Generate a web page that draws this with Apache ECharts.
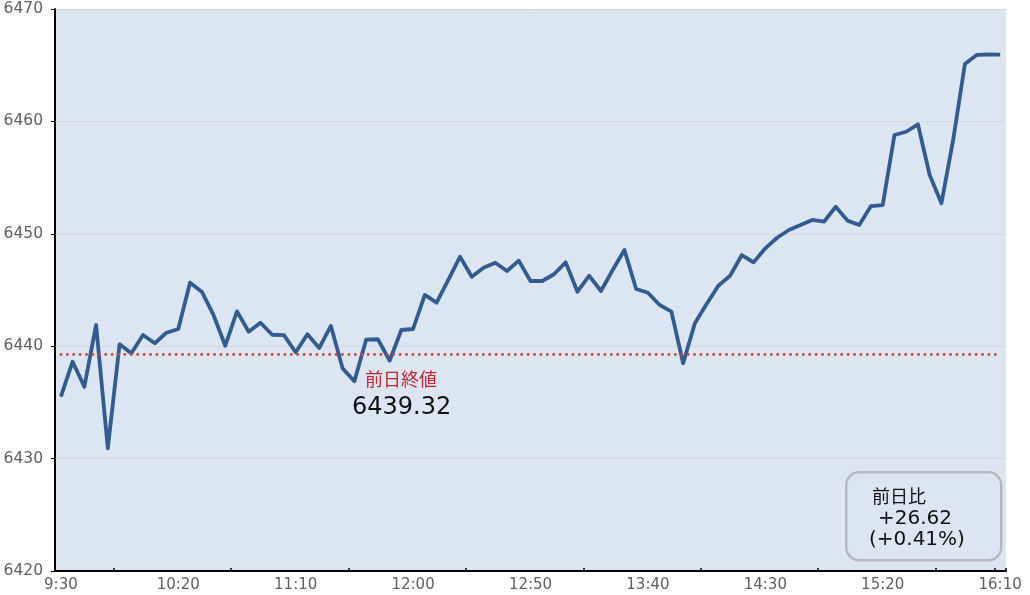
<!DOCTYPE html>
<html>
<head>
<meta charset="utf-8">
<script src="https://cdn.jsdelivr.net/npm/echarts@6/dist/echarts.min.js"></script>
<style>
html,body{margin:0;padding:0;background:#fff;}
#chart{width:1030px;height:595px;}
</style>
</head>
<body>
<div id="chart"></div>
<script>
var times = [
  '9:30','9:35','9:40','9:45','9:50','9:55',
  '10:00','10:05','10:10','10:15','10:20','10:25','10:30','10:35','10:40','10:45','10:50','10:55',
  '11:00','11:05','11:10','11:15','11:20','11:25','11:30','11:35','11:40','11:45','11:50','11:55',
  '12:00','12:05','12:10','12:15','12:20','12:25','12:30','12:35','12:40','12:45','12:50','12:55',
  '13:00','13:05','13:10','13:15','13:20','13:25','13:30','13:35','13:40','13:45','13:50','13:55',
  '14:00','14:05','14:10','14:15','14:20','14:25','14:30','14:35','14:40','14:45','14:50','14:55',
  '15:00','15:05','15:10','15:15','15:20','15:25','15:30','15:35','15:40','15:45','15:50','15:55',
  '16:00','16:05','16:10'
];
var prices = [
  6435.51, 6438.62, 6436.40, 6441.89, 6430.92, 6440.17, 6439.37, 6441.00, 6440.26, 6441.20,
  6441.53, 6445.65, 6444.85, 6442.78, 6440.04, 6443.10, 6441.29, 6442.09, 6441.02, 6440.98,
  6439.46, 6441.06, 6439.84, 6441.80, 6438.02, 6436.88, 6440.58, 6440.62, 6438.71, 6441.44,
  6441.53, 6444.56, 6443.87, 6445.89, 6447.96, 6446.18, 6446.98, 6447.43, 6446.69, 6447.61,
  6445.80, 6445.80, 6446.40, 6447.46, 6444.85, 6446.27, 6444.91, 6446.78, 6448.56, 6445.09,
  6444.76, 6443.67, 6443.07, 6438.48, 6442.04, 6443.75, 6445.38, 6446.27, 6448.11, 6447.46,
  6448.71, 6449.65, 6450.34, 6450.78, 6451.23, 6451.08, 6452.41, 6451.17, 6450.78, 6452.47,
  6452.56, 6458.79, 6459.08, 6459.74, 6455.23, 6452.71, 6458.35, 6465.11, 6465.91, 6465.95,
  6465.94
];
var prevClose = 6439.32;
var prevCloseLabel = '前日終値';
var changeTitle = '前日比';
var changeValue = '+26.62';
var changePct = '(+0.41%)';
var yTicks = { min: 6420, max: 6470, interval: 10 };

var chart = echarts.init(document.getElementById('chart'), null, {renderer: 'canvas'});
var FONT = 'DejaVu Sans';
var CJK = '"Noto Sans CJK JP", "DejaVu Sans"';

chart.setOption({
  animation: false,
  backgroundColor: '#ffffff',
  grid: {
    left: 55, right: 24, top: 9, bottom: 24,
    outerBoundsMode: 'none',
    containLabel: false,
    show: true, backgroundColor: '#dce6f2', borderWidth: 0
  },
  xAxis: {
    type: 'category',
    data: times,
    boundaryGap: true,
    axisLine: { show: true, lineStyle: { color: '#000', width: 2 } },
    axisTick: {
      show: true, inside: true, length: 3,
      lineStyle: { color: '#000', width: 1.5 },
      interval: function (idx) { return idx % 10 === 5 || idx === 80; }
    },
    axisLabel: {
      interval: 9, margin: 7,
      color: '#5f5f5f', fontFamily: FONT, fontSize: 15
    },
    splitLine: { show: false }
  },
  yAxis: {
    type: 'value',
    min: yTicks.min, max: yTicks.max, interval: yTicks.interval,
    axisLine: { show: true, lineStyle: { color: '#000', width: 2 } },
    axisTick: { show: true, inside: false, length: 4, lineStyle: { color: '#000', width: 1 } },
    axisLabel: {
      margin: 12, color: '#5f5f5f', fontFamily: FONT, fontSize: 15.5,
      formatter: function (v) { return String(v); }
    },
    splitLine: { show: true, lineStyle: { color: '#d4d8dc', width: 1 } }
  },
  series: [{
    type: 'line',
    data: prices,
    showSymbol: false,
    symbol: 'none',
    lineStyle: { color: '#325c91', width: 3.8, join: 'round' },
    markLine: {
      silent: true,
      symbol: ['none', 'none'],
      label: { show: false },
      lineStyle: { color: '#d0443f', width: 2.8, type: [0.1, 6.3], cap: 'round' },
      data: [[ { coord: [times[0], prevClose] }, { coord: [times[times.length - 1], prevClose] } ]]
    },
    z: 3
  }],
  graphic: [
    { type: 'text', left: 365, top: 370, z: 10,
      style: { text: prevCloseLabel, fill: '#c4262e', font: '18px ' + CJK } },
    { type: 'text', left: 352, top: 396, z: 10,
      style: { text: String(prevClose), fill: '#111', font: '24px ' + FONT } },
    { type: 'rect', left: 845, top: 471, z: 10,
      shape: { width: 155, height: 88, r: 13 },
      style: { fill: '#dce6f2', stroke: '#b5b9bd', lineWidth: 2.5 } },
    { type: 'text', left: 872, top: 487, z: 11,
      style: { text: changeTitle, fill: '#111', font: '18px ' + CJK } },
    { type: 'text', left: 878, top: 509, z: 11,
      style: { text: changeValue, fill: '#111', font: '20px ' + FONT } },
    { type: 'text', left: 869, top: 530, z: 11,
      style: { text: changePct, fill: '#111', font: '20px ' + FONT } }
  ]
});
</script>
</body>
</html>
